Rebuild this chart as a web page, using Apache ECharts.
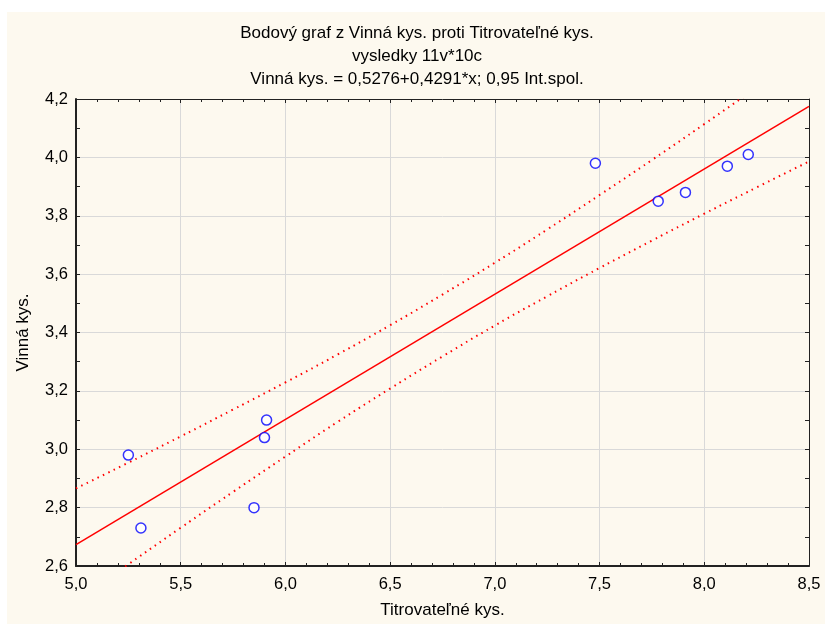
<!DOCTYPE html>
<html>
<head>
<meta charset="utf-8">
<script src="https://cdn.jsdelivr.net/npm/echarts@6/dist/echarts.min.js"></script>
<style>
  html, body { margin: 0; padding: 0; background: #ffffff; }
  #wrap { position: relative; width: 825px; height: 624px; }
  #paper { position: absolute; left: 7px; top: 12px; width: 818px; height: 612px; background: #fdf9ef; }
  #chart { position: absolute; left: 0; top: 0; width: 825px; height: 624px; }
</style>
</head>
<body>
<div id="wrap">
  <div id="paper"></div>
  <div id="chart"></div>
</div>
<script>
// body merani (Titrovatelne kys. / Vinna kys.)
const titrX = [5.25, 5.31, 5.85, 5.90, 5.91, 7.48, 7.78, 7.91, 8.11, 8.21];
const vinnaY = [2.98, 2.73, 2.80, 3.04, 3.10, 3.98, 3.85, 3.88, 3.97, 4.01];

// regresna priamka: Vinna kys. = 0,5276 + 0,4291*x
const fitX = [5.0, 8.5];
const fitY = [2.673, 4.175];

// 0,95 intervaly spolahlivosti (odcitane z grafu)
const bandX = [5.0, 5.25, 5.5, 5.75, 6.0, 6.25, 6.5, 6.75, 7.0, 7.25, 7.5, 7.75, 8.0, 8.25, 8.5];
const bandUpper = [2.866, 2.954, 3.044, 3.136, 3.229, 3.325, 3.425, 3.530, 3.639, 3.753, 3.871, 3.991, 4.114, 4.239, 4.364];
const bandLower = [2.481, 2.606, 2.731, 2.854, 2.975, 3.094, 3.208, 3.318, 3.424, 3.524, 3.621, 3.715, 3.807, 3.897, 3.986];

const xTicks = [5.0, 5.5, 6.0, 6.5, 7.0, 7.5, 8.0, 8.5];
const yTicks = [2.6, 2.8, 3.0, 3.2, 3.4, 3.6, 3.8, 4.0, 4.2];

const font = "'Liberation Sans', Arial, sans-serif";
const zip = (a, b) => a.map((v, i) => [v, b[i]]);
// desatinna ciarka
const comma = v => v.toFixed(1).replace(".", ",");

const mychart = echarts.init(document.getElementById("chart"));

const baseAxis = {
  type: "value",
  axisLine: { show: true, onZero: false, lineStyle: { color: "#222", width: 1 } },
  axisTick: { show: true, inside: true, length: 4, lineStyle: { color: "#222" } },
  minorTick: { show: true, length: 3, lineStyle: { color: "#222" } },
  splitLine: { show: false },
  axisLabel: { show: false }
};

mychart.setOption({
  animation: false,
  title: {
    text: "Bodový graf z Vinná kys. proti Titrovateľné kys.\nvysledky 11v*10c\nVinná kys. = 0,5276+0,4291*x; 0,95 Int.spol.",
    left: 412,
    textAlign: "center",
    top: 17,
    textStyle: { fontFamily: font, fontSize: 17, fontWeight: "normal", color: "#000", lineHeight: 23 }
  },
  grid: { left: 76, right: 16, top: 99, bottom: 58 },
  xAxis: [
    Object.assign({}, baseAxis, {
      position: "bottom",
      min: xTicks[0], max: xTicks[xTicks.length - 1], interval: 0.5,
      axisLine: { show: true, onZero: false, lineStyle: { color: "#222", width: 2 } },
      minorTick: { show: true, splitNumber: 5, length: 3, lineStyle: { color: "#222" } },
      splitLine: { show: true, lineStyle: { color: "#d9d9d9", width: 1 } },
      axisLabel: { show: true, margin: 10, color: "#000", fontFamily: font, fontSize: 16.5, formatter: comma },
      name: "Titrovateľné kys.",
      nameLocation: "middle",
      nameGap: 36,
      nameTextStyle: { color: "#000", fontFamily: font, fontSize: 17 }
    }),
    Object.assign({}, baseAxis, {
      position: "top",
      min: xTicks[0], max: xTicks[xTicks.length - 1], interval: 0.5,
      minorTick: { show: true, splitNumber: 5, length: 3, lineStyle: { color: "#222" } }
    })
  ],
  yAxis: [
    Object.assign({}, baseAxis, {
      position: "left",
      min: yTicks[0], max: yTicks[yTicks.length - 1], interval: 0.2,
      axisLine: { show: true, onZero: false, lineStyle: { color: "#222", width: 2 } },
      minorTick: { show: true, splitNumber: 2, length: 4, lineStyle: { color: "#222" } },
      splitLine: { show: true, lineStyle: { color: "#d9d9d9", width: 1 } },
      axisLabel: { show: true, margin: 8, color: "#000", fontFamily: font, fontSize: 16.5, formatter: comma },
      name: "Vinná kys.",
      nameLocation: "middle",
      nameGap: 44,
      nameTextStyle: { color: "#000", fontFamily: font, fontSize: 17 }
    }),
    Object.assign({}, baseAxis, {
      position: "right",
      min: yTicks[0], max: yTicks[yTicks.length - 1], interval: 0.2,
      minorTick: { show: true, splitNumber: 2, length: 4, lineStyle: { color: "#222" } }
    })
  ],
  series: [
    {
      // horny interval
      type: "line",
      data: zip(bandX, bandUpper),
      smooth: true,
      symbol: "none",
      clip: true,
      lineStyle: { color: "#ff0000", width: 2, type: [1.5, 4.5] }
    },
    {
      // dolny interval
      type: "line",
      data: zip(bandX, bandLower),
      smooth: true,
      symbol: "none",
      clip: true,
      lineStyle: { color: "#ff0000", width: 2, type: [1.5, 4.5] }
    },
    {
      type: "line",
      data: zip(fitX, fitY),
      symbol: "none",
      clip: true,
      lineStyle: { color: "#ff0000", width: 1.5 }
    },
    {
      type: "scatter",
      data: zip(titrX, vinnaY),
      symbol: "circle",
      symbolSize: 10,
      itemStyle: { color: "#ffffff", borderColor: "#0000ff", borderWidth: 1.5 },
      z: 5
    }
  ]
});
</script>
</body>
</html>
